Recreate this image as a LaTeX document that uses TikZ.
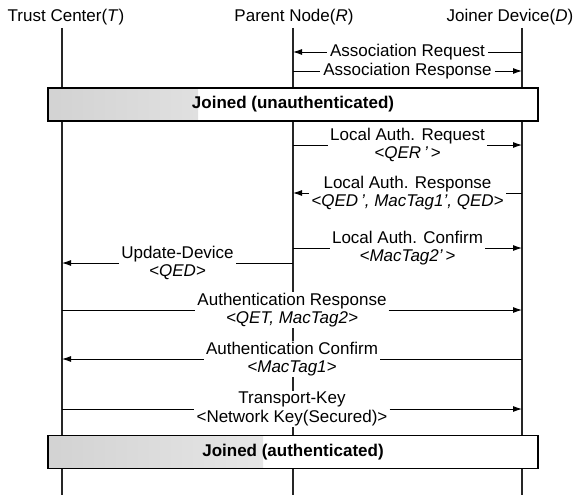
\documentclass[tikz,border=0pt]{standalone}
\usepackage{fontspec}
\setmainfont{Liberation Sans}
\usetikzlibrary{arrows.meta}
\begin{document}
\begin{tikzpicture}[x=1pt,y=-1pt,
  every node/.style={font=\fontsize{17}{18.5}\selectfont, inner sep=0pt},
  head/.style={anchor=base},
  life/.style={line width=1.3pt, black!85},
  msg/.style={line width=0.9pt},
  arr/.style={msg, -{Latex[length=9pt,width=6pt]}},
  lbl/.style={fill=white, align=center, inner xsep=2pt, inner ysep=1pt},
  state/.style={draw, line width=1.3pt, fill=white, minimum width=490pt, minimum height=33pt,
    font=\fontsize{17}{18.5}\selectfont\bfseries},
  shadeto/.style={path picture={\fill[left color=gray!35, middle color=gray!30, right color=white]
    (path picture bounding box.south west) rectangle ([xshift=#1]path picture bounding box.north west);}}
]
\useasboundingbox (0,0) rectangle (578,495);

% headers
\node[head] (hT) at (66,22) {Trust Center(\textit{T})};
\node[head] (hR) at (294,22) {Parent Node(\textit{R})};
\node[head] (hD) at (510,22) {Joiner Device(\textit{D})};

% lifelines
\coordinate (T) at (62,28);  \coordinate (Tb) at (62,495);
\coordinate (R) at (293,28); \coordinate (Rb) at (293,495);
\coordinate (D) at (522,28); \coordinate (Db) at (522,495);
\draw[life] (T) -- (Tb);
\draw[life] (R) -- (Rb);
\draw[life] (D) -- (Db);

% association
\node[lbl, inner xsep=3pt] (m1) at (407.5,52) {Association Request};
\draw[msg] (D |- m1) -- (m1.east);
\draw[arr] (m1.west) -- (R |- m1);
\node[lbl, inner xsep=3pt] (m2) at (407.5,71) {Association Response};
\draw[msg] (R |- m2) -- (m2.west);
\draw[arr] (m2.east) -- (D |- m2);

% state 1
\node[state, shadeto=150pt] (s1) at (293,104.5) {Joined (unauthenticated)};

% local auth
\node[lbl] (m3) at (407.5,145) {Local Auth. Request\\\textit{<QER\,'\,>}};
\draw[msg] (R |- m3) -- (m3.west);
\draw[arr] (m3.east) -- (D |- m3);

\node[lbl] (m4) at (407.5,193) {Local Auth. Response\\\textit{<QED\,', MacTag1', QED>}};
\draw[msg] (D |- m4) -- (m4.east);
\draw[arr] (m4.west) -- (R |- m4);

\node[lbl] (m5) at (407.5,248) {Local Auth. Confirm\\\textit{<MacTag2'\,>}};
\draw[msg] (R |- m5) -- (m5.west);
\draw[arr] (m5.east) -- (D |- m5);

\node[lbl] (m6) at (177.5,263) {Update-Device\\\textit{<QED>}};
\draw[msg] (R |- m6) -- (m6.east);
\draw[arr] (m6.west) -- (T |- m6);

% authentication
\node[lbl] (m7) at (292,310) {Authentication Response\\\textit{<QET, MacTag2>}};
\draw[msg] (T |- m7) -- (m7.west);
\draw[arr] (m7.east) -- (D |- m7);

\node[lbl] (m8) at (292,359) {Authentication Confirm\\\textit{<MacTag1>}};
\draw[msg] (D |- m8) -- (m8.east);
\draw[arr] (m8.west) -- (T |- m8);

\node[lbl] (m9) at (292,409) {Transport-Key\\<Network Key(Secured)>};
\draw[msg] (T |- m9) -- (m9.west);
\draw[arr] (m9.east) -- (D |- m9);

% state 2
\node[state, shadeto=215pt] (s2) at (293,452) {Joined (authenticated)};
\end{tikzpicture}
\end{document}
